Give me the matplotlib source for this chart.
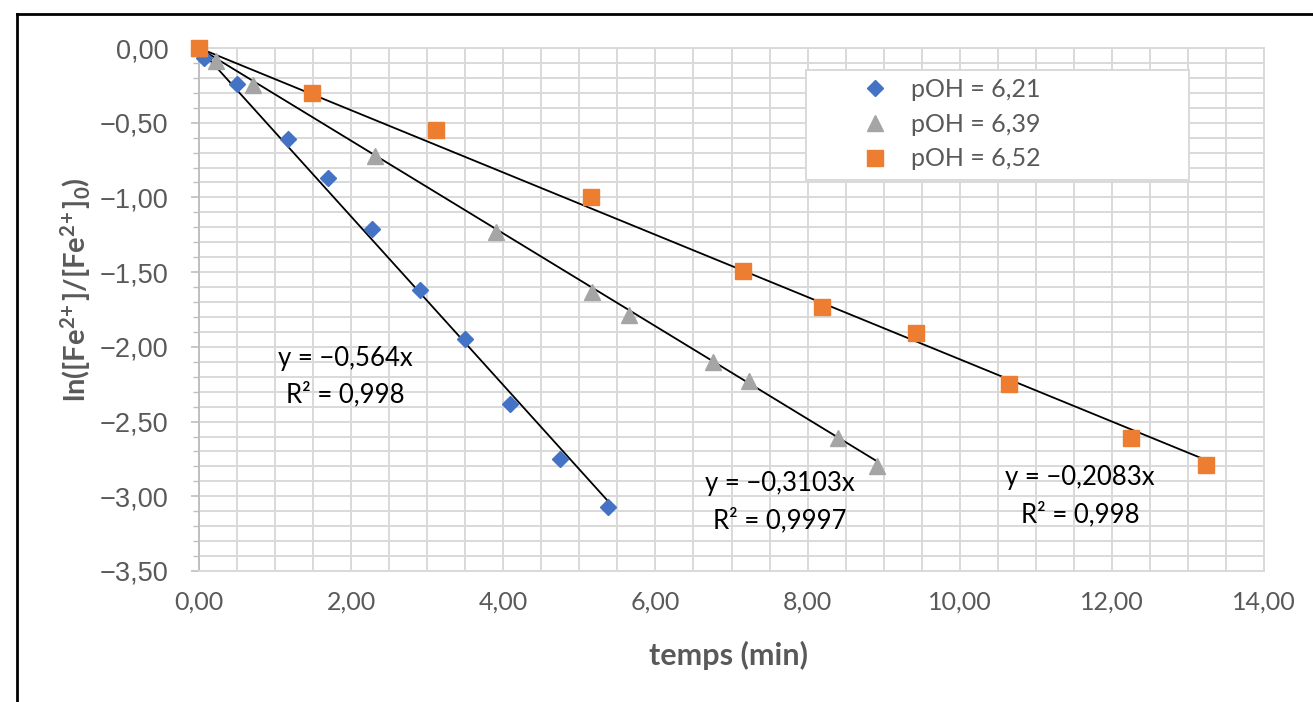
"""
Cinétique d'oxydation du Fe(II) : ln([Fe2+]/[Fe2+]0) en fonction du temps pour trois pOH.
"""

import matplotlib

matplotlib.use("Agg")
import matplotlib.pyplot as plt
import numpy as np
from matplotlib.lines import Line2D
from matplotlib.patches import Rectangle
from matplotlib.ticker import FuncFormatter, MultipleLocator

# pOH = 6,21
t_621 = [0.0, 0.07, 0.50, 1.17, 1.70, 2.27, 2.90, 3.50, 4.09, 4.75, 5.38]
ln_621 = [0.0, -0.07, -0.24, -0.61, -0.87, -1.21, -1.62, -1.95, -2.38, -2.75, -3.07]

# pOH = 6,39
t_639 = [0.0, 0.23, 0.71, 2.32, 3.91, 5.16, 5.65, 6.76, 7.23, 8.40, 8.91]
ln_639 = [0.0, -0.09, -0.25, -0.72, -1.23, -1.63, -1.79, -2.10, -2.23, -2.61, -2.80]

# pOH = 6,52
t_652 = [0.0, 1.48, 3.11, 5.15, 7.15, 8.19, 9.42, 10.65, 12.25, 13.24]
ln_652 = [0.0, -0.30, -0.55, -1.00, -1.49, -1.73, -1.91, -2.25, -2.61, -2.79]

series_labels = ["pOH = 6,21", "pOH = 6,39", "pOH = 6,52"]
slopes = [-0.564, -0.3103, -0.2083]
slope_texts = ["y = −0,564x", "y = −0,3103x", "y = −0,2083x"]
r2_texts = ["R² = 0,998", "R² = 0,9997", "R² = 0,998"]

BLUE = "#4472C4"
GRAY = "#A5A5A5"
ORANGE = "#ED7D31"
TEXT_GRAY = "#595959"
GRID = "#D9D9D9"

FONT = ["Lato", "DejaVu Sans"]
ARIAL = ["Liberation Sans", "DejaVu Sans"]

plt.rcParams["font.family"] = FONT
# only the y label uses mathtext, and it is bold
plt.rcParams["mathtext.fontset"] = "custom"
plt.rcParams["mathtext.rm"] = "Lato:bold"
plt.rcParams["mathtext.it"] = "Lato:bold"
plt.rcParams["mathtext.bf"] = "Lato:bold"


def comma_fmt(v, _pos):
    if abs(v) < 1e-9:
        return "0,00"
    return f"{v:.2f}".replace(".", ",").replace("-", "−")


def main():
    W, H = 1313, 702
    fig = plt.figure(figsize=(W / 100, H / 100), dpi=100)
    left, right, top, bottom = 199, 1264, 48, 571
    ax = fig.add_axes([left / W, 1 - bottom / H, (right - left) / W, (bottom - top) / H])

    ax.set_xlim(0, 14)
    ax.set_ylim(-3.5, 0)

    ax.xaxis.set_major_locator(MultipleLocator(2))
    ax.xaxis.set_minor_locator(MultipleLocator(0.5))
    ax.yaxis.set_major_locator(MultipleLocator(0.5))
    ax.yaxis.set_minor_locator(MultipleLocator(0.1))
    ax.xaxis.set_major_formatter(FuncFormatter(comma_fmt))
    ax.yaxis.set_major_formatter(FuncFormatter(comma_fmt))

    ax.grid(which="both", color=GRID, lw=1.4, zorder=0)
    ax.set_axisbelow(True)

    for side in ["top", "right", "bottom"]:
        ax.spines[side].set_color(GRID)
        ax.spines[side].set_linewidth(1.4)
    ax.spines["left"].set_color("#BFBFBF")
    ax.spines["left"].set_linewidth(1.4)

    ax.tick_params(axis="x", which="both", length=0, pad=14, labelsize=18, labelcolor=TEXT_GRAY)
    ax.tick_params(axis="y", which="major", length=6, width=1.2, color="#BFBFBF",
                   pad=16, labelsize=19.5, labelcolor=TEXT_GRAY)
    ax.tick_params(axis="y", which="minor", length=4, width=1.0, color="#BFBFBF")
    for lab in ax.get_yticklabels():
        lab.set_family(ARIAL)

    # fitted lines, forced through the origin
    for t, k in zip([t_621, t_639, t_652], slopes):
        xs = np.array([0.0, max(t)])
        ax.plot(xs, k * xs, color="black", lw=1.3, zorder=3)

    ax.plot(t_621, ln_621, ls="none", marker="D", ms=8, color=BLUE,
            label=series_labels[0], zorder=4, clip_on=False)
    ax.plot(t_639, ln_639, ls="none", marker="^", ms=11.5, color=GRAY,
            label=series_labels[1], zorder=4, clip_on=False)
    ax.plot(t_652, ln_652, ls="none", marker="s", ms=11.5, color=ORANGE,
            label=series_labels[2], zorder=4, clip_on=False)

    # trend line equations
    eq_pos = [(1.92, -2.2), (7.64, -3.04), (11.58, -3.0)]
    for (x, y), s, r in zip(eq_pos, slope_texts, r2_texts):
        ax.text(x, y, s + "\n" + r, ha="center", va="center", fontsize=18.5,
                color="black", linespacing=1.55, zorder=5)

    # legend box drawn separately so the marker can sit far from the edge
    box_x0 = (806 - left) / (right - left)
    box_x1 = (1189 - left) / (right - left)
    box_y0 = (bottom - 180) / (bottom - top)
    box_y1 = (bottom - 70) / (bottom - top)
    ax.add_patch(Rectangle((box_x0, box_y0), box_x1 - box_x0, box_y1 - box_y0,
                           transform=ax.transAxes, facecolor="white", edgecolor=GRID,
                           lw=1.4, zorder=6))
    leg = ax.legend(loc="upper left",
                    bbox_to_anchor=((862 - left) / (right - left), (bottom - 78) / (bottom - top)),
                    frameon=False, borderpad=0, borderaxespad=0, handlelength=1.05,
                    handletextpad=0.9, labelspacing=0.47, fontsize=18, numpoints=1)
    leg.set_zorder(7)
    for txt in leg.get_texts():
        txt.set_color(TEXT_GRAY)

    fig.text(728 / W, 1 - 655 / H, "temps (min)", ha="center", va="center",
             fontsize=22, fontweight="bold", color=TEXT_GRAY)
    fig.text(76 / W, 1 - 290 / H,
             "ln([Fe$^{2\\!+}$]/[Fe$^{2\\!+}$]$_{0}$)",
             rotation=90, ha="center", va="center", fontsize=21, fontweight="bold", color=TEXT_GRAY)

    # outer chart frame (only left and top edges are visible in the crop)
    fig.add_artist(Line2D([17 / W, 17 / W], [0, 1 - 14 / H], color="black", lw=2))
    fig.add_artist(Line2D([17 / W, 1], [1 - 14 / H, 1 - 14 / H], color="black", lw=2))

    fig.savefig("out.png", dpi=100)


if __name__ == "__main__":
    main()
